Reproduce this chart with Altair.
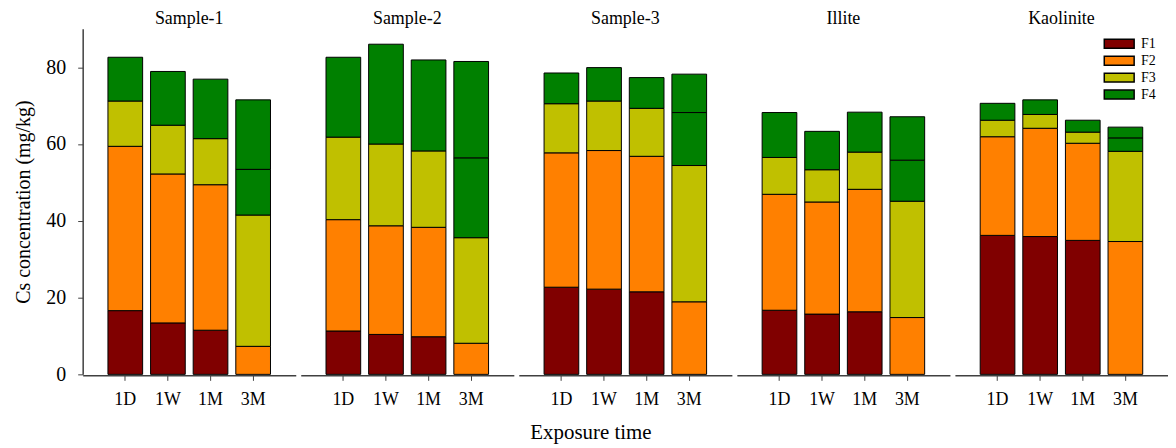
import altair as alt
import pandas as pd

SAMPLES = ["Sample-1", "Sample-2", "Sample-3", "Illite", "Kaolinite"]
TIMES = ["1D", "1W", "1M", "3M"]
FRACTIONS = ["F1", "F2", "F3", "F4"]
COLORS = ["#800000", "#FF8000", "#C0C000", "#008000"]

# segment heights (bottom -> top) for each exposure time 1D, 1W, 1M, 3M
SAMPLE_1 = [[16.6, 42.8, 11.8, 11.4], [13.4, 38.8, 12.7, 14.0], [11.5, 37.9, 12.0, 15.5], [7.3, 34.2, 11.9, 18.1]]
SAMPLE_2 = [[11.3, 29.0, 21.5, 20.8], [10.4, 28.3, 21.3, 26.0], [9.8, 28.5, 19.9, 23.7], [8.1, 27.5, 20.8, 25.1]]
SAMPLE_3 = [[22.7, 35.0, 12.8, 8.0], [22.2, 36.1, 12.9, 8.7], [21.5, 35.3, 12.5, 8.0], [18.9, 35.5, 13.8, 10.0]]
ILLITE = [[16.7, 30.2, 9.6, 11.7], [15.7, 29.2, 8.4, 10.0], [16.3, 31.9, 9.7, 10.4], [14.8, 30.3, 10.7, 11.3]]
KAOLINITE = [[36.2, 25.7, 4.3, 4.4], [35.9, 28.2, 3.6, 3.8], [34.9, 25.3, 2.9, 3.1], [34.6, 23.5, 3.5, 2.8]]

# colour key of each segment (bottom -> top); the 3M bars are coloured shifted
SEGMENT_KEYS = {
    "1D": ["F1", "F2", "F3", "F4"],
    "1W": ["F1", "F2", "F3", "F4"],
    "1M": ["F1", "F2", "F3", "F4"],
    "3M": ["F2", "F3", "F4", "F4"],
}

VALUES = [SAMPLE_1, SAMPLE_2, SAMPLE_3, ILLITE, KAOLINITE]

rows = []
for s, sample_vals in zip(SAMPLES, VALUES):
    for t, segs in zip(TIMES, sample_vals):
        for i, v in enumerate(segs):
            rows.append({"sample": s, "time": t, "seg": i, "value": v,
                         "fraction": SEGMENT_KEYS[t][i]})
df = pd.DataFrame(rows)

FONT = "Liberation Serif"

bars = alt.Chart(df).mark_bar(stroke="black", strokeWidth=1).encode(
    x=alt.X("time:N", sort=TIMES,
            scale=alt.Scale(paddingInner=0.186, paddingOuter=0.593),
            axis=alt.Axis(title=None, labelAngle=0, labelFont=FONT, labelFontSize=18,
                          labelColor="black", labelPadding=10, tickSize=5,
                          tickColor="#404040", domainColor="#404040", domainWidth=1.5)),
    y=alt.Y("value:Q", stack="zero",
            scale=alt.Scale(domain=[0, 90], nice=False),
            axis=alt.Axis(title="Cs concentration (mg/kg)", values=[0, 20, 40, 60, 80],
                          grid=False, labelFont=FONT, labelFontSize=20, labelColor="black",
                          labelPadding=12, tickSize=5, tickColor="#404040",
                          domainColor="#404040", domainWidth=1.5,
                          titleFont=FONT, titleFontSize=20, titleFontWeight="normal",
                          titleColor="black", titlePadding=12)),
    color=alt.Color("fraction:N", scale=alt.Scale(domain=FRACTIONS, range=COLORS),
                    legend=alt.Legend(title=None, orient="none", legendX=1034, legendY=8,
                                      labelFont=FONT, labelFontSize=14, labelColor="black",
                                      symbolType="M-3,-0.9H3V0.9H-3Z", symbolSize=100,
                                      symbolStrokeColor="black", symbolStrokeWidth=1.5,
                                      symbolOpacity=1, rowPadding=1, labelOffset=15)),
    order=alt.Order("seg:Q", sort="ascending"),
).properties(width=214, height=347)

chart = bars.facet(
    column=alt.Column("sample:N", sort=SAMPLES,
                      header=alt.Header(title=None, labelFont=FONT, labelFontSize=18,
                                        labelColor="black", labelPadding=1)),
    spacing=5,
).properties(
    title=alt.TitleParams("Exposure time", orient="bottom", anchor="middle", font=FONT,
                          fontSize=21, fontWeight="normal", color="black", offset=14),
    padding={"left": 6, "right": 0, "top": 1, "bottom": 0},
).configure_view(stroke=None)

chart.save("out.html", embed_options={"renderer": "svg", "actions": False})
